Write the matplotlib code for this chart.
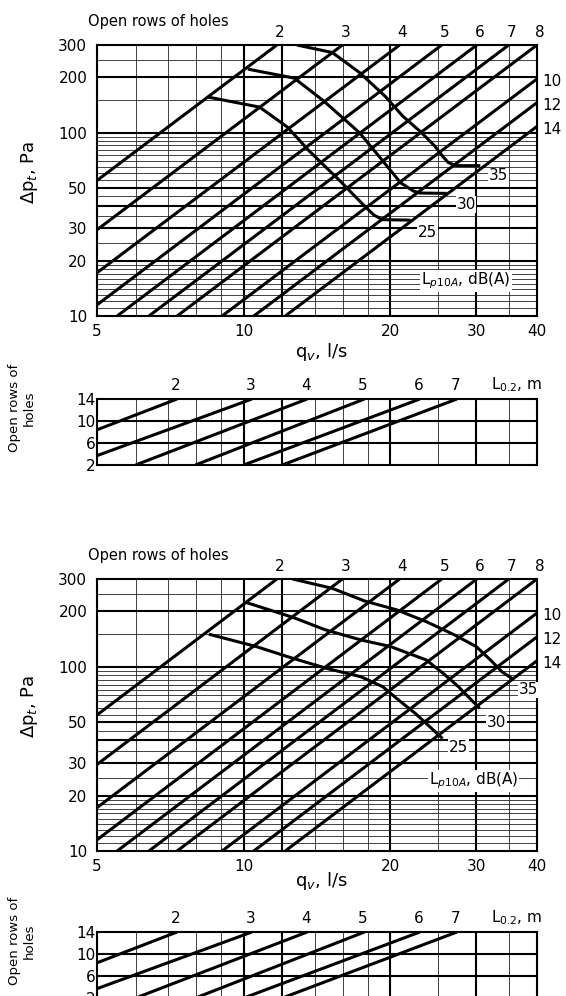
import matplotlib
matplotlib.use("Agg")
import matplotlib.pyplot as plt
from matplotlib.ticker import NullLocator

plt.rcParams['font.family'] = ['DejaVu Sans']
plt.rcParams['font.size'] = 11

# axis ranges of the pressure diagram
Q_MIN, Q_MAX = 5, 40
DP_MIN, DP_MAX = 10, 300

q_ticks = [5, 10, 20, 30, 40]
dp_ticks = [10, 20, 30, 50, 100, 200, 300]
q_grid = [6, 7, 8, 9, 10, 12, 14, 16, 18, 20, 25, 30, 35]
q_grid_bold = [10, 12, 20, 30]
dp_grid = [11, 12, 13, 14, 15, 16, 17, 18, 19, 20, 25, 30, 35, 40, 45, 50,
           55, 60, 65, 70, 75, 80, 85, 90, 95, 100, 150, 200, 250]
dp_grid_bold = [20, 30, 40, 50, 100, 200]

# open rows of holes -> straight lines, end points
rows = ['2', '3', '4', '5', '6', '7', '8', '10', '12', '14']
rows_q0 = [5, 5, 5, 5, 5.5, 6.39, 7.3, 9.03, 10.49, 12.17]
rows_dp0 = [54.8, 29.5, 17.2, 11.5, 10, 10, 10, 10, 10, 10]
rows_q1 = [11.7, 15.95, 20.9, 25.5, 30.1, 35.0, 40, 40, 40, 40]
rows_dp1 = [300, 300, 300, 300, 300, 300, 300, 196, 145.5, 108]

# sound level curves L_p10A, upper diagram
top_25_q = [8.46, 10.78, 12.3, 13.64, 15.8, 17.6, 18.5, 19.3, 22.0]
top_25_dp = [156, 137.6, 107, 79.2, 54.2, 40.4, 35.5, 33.5, 33.3]
top_30_q = [10.2, 12.7, 14.6, 17.3, 19.2, 21.0, 22.3, 23.0, 26.1]
top_30_dp = [221.6, 198, 148.5, 99.6, 71.2, 53.2, 48.0, 46.8, 46.6]
top_35_q = [12.86, 15.2, 17.3, 19.5, 21.2, 23.2, 24.7, 25.6, 26.3, 27.3, 30.6]
top_35_dp = [300, 273, 212, 158, 123, 99.6, 84.2, 74.3, 68.6, 66.0, 66.0]

# sound level curves L_p10A, lower diagram
bot_25_q = [8.48, 10.6, 12.4, 14.8, 17.4, 19.3, 20.6, 22.5, 24.1, 25.6]
bot_25_dp = [150.5, 129, 112.9, 98.1, 88.4, 78, 67.4, 55.9, 47.3, 40.8]
bot_30_q = [10.1, 12.6, 14.7, 17.4, 20.0, 23.7, 25.7, 27.6, 30.5]
bot_30_dp = [224, 186, 159, 140, 129, 109, 92, 78, 59.5]
bot_35_q = [12.6, 15.2, 17.7, 20.6, 23.7, 27.1, 30.0, 32.1, 33.9, 35.9]
bot_35_dp = [300, 267, 228, 204, 176, 149, 129, 109, 94, 85]

# curve labels (q, dp)
top_labels = [('25', 23.8, 28.5), ('30', 28.6, 40.5), ('35', 33.3, 58.0)]
bot_labels = [('25', 27.6, 36.5), ('30', 33.1, 49.6), ('35', 38.5, 75.0)]
top_unit_pos = (28.6, 15.5)
bot_unit_pos = (29.6, 24.0)

# throw diagram: L0.2 lines, rows of holes vs q
throw = ['2', '3', '4', '5', '6', '7']
throw_q0 = [5, 5, 6.0, 7.96, 10.0, 12.0]
throw_r0 = [8.4, 3.7, 2, 2, 2, 2]
throw_q1 = [7.3, 10.4, 13.5, 17.7, 23.0, 27.4]
throw_r1 = [14, 14, 14, 14, 14, 14]
row_ticks = [14, 10, 6, 2]
row_grid_bold = [6, 10]

LW_THIN = 0.6
LW_BOLD = 1.5
LW_CURVE = 2.2
GRID_C = '#222222'


def draw_main(ax, curves, labels, unit_pos):
    ax.set_xscale('log')
    ax.set_yscale('log')
    ax.set_xlim(Q_MIN, Q_MAX)
    ax.set_ylim(DP_MIN, DP_MAX)
    for v in q_grid:
        bold = v in q_grid_bold
        ax.axvline(v, color='k' if bold else GRID_C, lw=LW_BOLD if bold else LW_THIN, zorder=1)
    for v in dp_grid:
        bold = v in dp_grid_bold
        ax.axhline(v, color='k' if bold else GRID_C, lw=LW_BOLD if bold else LW_THIN, zorder=1)

    for i, name in enumerate(rows):
        ax.plot([rows_q0[i], rows_q1[i]], [rows_dp0[i], rows_dp1[i]],
                color='k', lw=LW_CURVE, solid_capstyle='butt', zorder=3)
        if rows_dp1[i] >= DP_MAX:
            ax.annotate(name, xy=(rows_q1[i], DP_MAX), xytext=(2, 9),
                        textcoords='offset points', ha='center', va='center',
                        fontsize=11, annotation_clip=False)
        else:
            ax.annotate(name, xy=(Q_MAX, rows_dp1[i]), xytext=(4, -2),
                        textcoords='offset points', ha='left', va='center',
                        fontsize=11, annotation_clip=False)

    for q, dp in curves:
        ax.plot(q, dp, color='k', lw=LW_CURVE, solid_joinstyle='round',
                solid_capstyle='butt', zorder=4)

    for s, q, dp in labels:
        ax.text(q, dp, s, ha='center', va='center', fontsize=11, zorder=5,
                bbox=dict(facecolor='white', edgecolor='none', pad=0.6),
                clip_on=False)
    ax.text(unit_pos[0], unit_pos[1], 'L$_{p10A}$, dB(A)', ha='center',
            va='center', fontsize=11, zorder=5,
            bbox=dict(facecolor='white', edgecolor='none', pad=0.6))

    ax.set_xticks(q_ticks)
    ax.set_xticklabels([str(v) for v in q_ticks])
    ax.set_yticks(dp_ticks)
    ax.set_yticklabels([str(v) for v in dp_ticks])
    ax.xaxis.set_minor_locator(NullLocator())
    ax.yaxis.set_minor_locator(NullLocator())
    ax.tick_params(axis='x', length=0, pad=6)
    ax.tick_params(axis='y', length=0, pad=7)
    for sp in ax.spines.values():
        sp.set_linewidth(LW_BOLD)
    ax.set_ylabel('Δp$_t$, Pa', fontsize=13)
    ax.yaxis.set_label_coords(-0.13, 0.53)
    ax.text(-0.02, 1.085, 'Open rows of holes', transform=ax.transAxes,
            ha='left', va='center', fontsize=10.5)


def draw_throw(ax):
    ax.set_xscale('log')
    ax.set_xlim(Q_MIN, Q_MAX)
    ax.set_ylim(2, 14)
    for v in q_grid:
        bold = v in q_grid_bold
        ax.axvline(v, color='k' if bold else GRID_C, lw=LW_BOLD if bold else LW_THIN, zorder=1)
    for v in row_grid_bold:
        ax.axhline(v, color='k', lw=LW_BOLD, zorder=1)
    for i, name in enumerate(throw):
        ax.plot([throw_q0[i], throw_q1[i]], [throw_r0[i], throw_r1[i]],
                color='k', lw=LW_CURVE, solid_capstyle='butt', zorder=3)
        ax.annotate(name, xy=(throw_q1[i], 14), xytext=(-1, 10),
                    textcoords='offset points', ha='center', va='center',
                    fontsize=11, annotation_clip=False)
    ax.annotate('L$_{0.2}$, m', xy=(36.3, 14), xytext=(0, 10),
                textcoords='offset points', ha='center', va='center',
                fontsize=11, annotation_clip=False)
    ax.set_xticks([])
    ax.xaxis.set_minor_locator(NullLocator())
    ax.set_yticks(row_ticks)
    ax.set_yticklabels([str(v) for v in row_ticks])
    ax.tick_params(axis='y', length=0, pad=1)
    for sp in ax.spines.values():
        sp.set_linewidth(LW_BOLD)
    ax.set_ylabel('Open rows of\nholes', fontsize=9.5, linespacing=1.1)
    ax.yaxis.set_label_coords(-0.14, 0.86)


W, H = 566, 996
fig = plt.figure(figsize=(W / 100, H / 100), dpi=100)
left = 97 / W
width = (537 - 97) / W


def box(top, bottom):
    return [left, 1 - bottom / H, width, (bottom - top) / H]


ax1 = fig.add_axes(box(45, 316))
ax1s = fig.add_axes(box(399, 465))
ax2 = fig.add_axes(box(579, 851))
ax2s = fig.add_axes(box(932, 998))

draw_main(ax1, [(top_25_q, top_25_dp), (top_30_q, top_30_dp), (top_35_q, top_35_dp)],
          top_labels, top_unit_pos)
draw_main(ax2, [(bot_25_q, bot_25_dp), (bot_30_q, bot_30_dp), (bot_35_q, bot_35_dp)],
          bot_labels, bot_unit_pos)
draw_throw(ax1s)
draw_throw(ax2s)

fig.text(321 / W, 1 - 352 / H, 'q$_v$, l/s', ha='center', va='center', fontsize=13)
fig.text(321 / W, 1 - 881 / H, 'q$_v$, l/s', ha='center', va='center', fontsize=13)

fig.savefig('out.png', dpi=100)
